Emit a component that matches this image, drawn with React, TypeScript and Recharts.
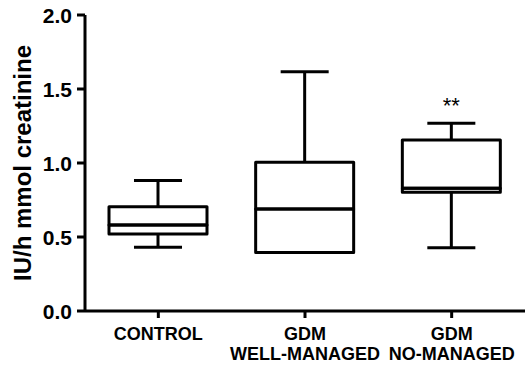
import React from 'react';
import { ComposedChart, Bar, XAxis, YAxis, LabelList, Label } from 'recharts';

const categories = ['CONTROL', 'GDM WELL-MANAGED', 'GDM NO-MANAGED'];
const mins = [0.43, 0.396, 0.428];
const q1s = [0.52, 0.396, 0.802];
const medians = [0.581, 0.689, 0.829];
const q3s = [0.705, 1.005, 1.155];
const maxs = [0.881, 1.617, 1.268];
const marks = ['', '', '**'];
const yTicks = [0, 0.5, 1.0, 1.5, 2.0];
const yTitle = 'IU/h mmol creatinine';

const data = categories.map((name, i) => ({
  name,
  base: mins[i],
  lowWhisker: q1s[i] - mins[i],
  lowBox: medians[i] - q1s[i],
  highBox: q3s[i] - medians[i],
  highWhisker: maxs[i] - q3s[i],
  mark: marks[i],
}));

const FONT = '"Liberation Sans", Arial, sans-serif';
const LW = 3;

const LowWhisker = (p: any) => {
  const cx = p.x + p.width / 2;
  const cap = p.width * 0.245;
  const bottom = p.y + p.height;
  return (
    <g>
      <line x1={cx} x2={cx} y1={p.y} y2={bottom} stroke="#000" strokeWidth={LW} />
      <line x1={cx - cap} x2={cx + cap} y1={bottom} y2={bottom} stroke="#000" strokeWidth={LW} />
    </g>
  );
};

const HighWhisker = (p: any) => {
  const cx = p.x + p.width / 2;
  const cap = p.width * 0.245;
  return (
    <g>
      <line x1={cx} x2={cx} y1={p.y} y2={p.y + p.height} stroke="#000" strokeWidth={LW} />
      <line x1={cx - cap} x2={cx + cap} y1={p.y} y2={p.y} stroke="#000" strokeWidth={LW} />
    </g>
  );
};

const BoxPart = (p: any) => (
  <rect
    x={p.x}
    y={p.y}
    width={p.width}
    height={Math.max(p.height, 0)}
    fill="none"
    stroke="#000"
    strokeWidth={LW}
    strokeLinejoin="round"
  />
);

const CategoryTick = ({ x, y, payload }: any) => {
  const lines = String(payload.value).split(' ');
  return (
    <text x={x} y={y} textAnchor="middle" fontFamily={FONT} fontWeight="bold" fontSize={18} fill="#000">
      {lines.map((l, i) => (
        <tspan key={`cat-${l}`} x={x} y={y + 20 + i * 20}>
          {l}
        </tspan>
      ))}
    </text>
  );
};

const ValueTick = ({ x, y, payload }: any) => (
  <text x={x} y={y + 7.5} textAnchor="end" fontFamily={FONT} fontWeight="bold" fontSize={21} fill="#000">
    {Number(payload.value).toFixed(1)}
  </text>
);

const YTitle = ({ viewBox }: any) => {
  const cx = 22;
  const cy = viewBox.y + viewBox.height / 2;
  return (
    <text
      x={cx}
      y={cy}
      transform={`rotate(-90, ${cx}, ${cy})`}
      textAnchor="middle"
      dominantBaseline="central"
      fontFamily={FONT}
      fontWeight="bold"
      fontSize={24}
      fill="#000"
    >
      {yTitle}
    </text>
  );
};

const MarkLabel = ({ x, y, width, value }: any) => {
  if (!value) return null;
  return (
    <text x={x + width / 2} y={y - 10} textAnchor="middle" fontFamily={FONT} fontSize={22} fill="#000">
      {value}
    </text>
  );
};

export default function App() {
  return (
    <div style={{ position: 'absolute', left: 0, top: 0, background: '#fff' }}>
      <ComposedChart width={525} height={369} data={data} margin={{ top: 15, right: 0, bottom: 0, left: 0 }} barSize={98}>
        <XAxis
          dataKey="name"
          height={58}
          axisLine={{ stroke: '#000', strokeWidth: LW }}
          tickLine={{ stroke: '#000', strokeWidth: LW }}
          tickSize={7}
          tickMargin={2}
          tick={<CategoryTick />}
          interval={0}
        />
        <YAxis
          width={85}
          domain={[0, 2]}
          ticks={yTicks}
          type="number"
          allowDataOverflow
          axisLine={{ stroke: '#000', strokeWidth: LW }}
          tickLine={{ stroke: '#000', strokeWidth: LW }}
          tickSize={8}
          tickMargin={5}
          tick={<ValueTick />}
        >
          <Label content={<YTitle />} />
        </YAxis>
        <Bar dataKey="base" stackId="box" fill="none" isAnimationActive={false} />
        <Bar dataKey="lowWhisker" stackId="box" shape={<LowWhisker />} isAnimationActive={false} />
        <Bar dataKey="lowBox" stackId="box" shape={<BoxPart />} isAnimationActive={false} />
        <Bar dataKey="highBox" stackId="box" shape={<BoxPart />} isAnimationActive={false} />
        <Bar dataKey="highWhisker" stackId="box" shape={<HighWhisker />} isAnimationActive={false}>
          <LabelList dataKey="mark" content={<MarkLabel />} />
        </Bar>
      </ComposedChart>
    </div>
  );
}
